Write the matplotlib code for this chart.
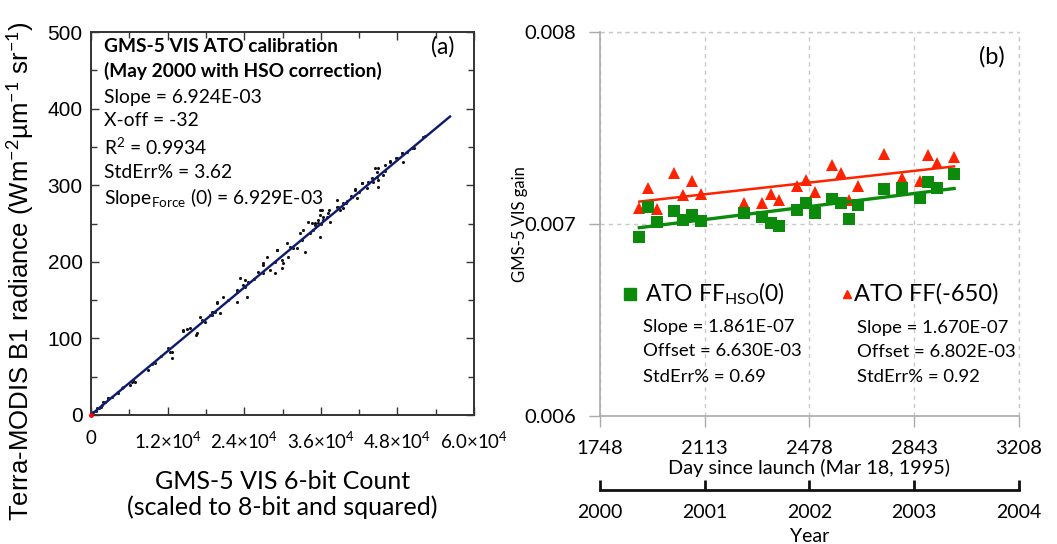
import matplotlib
matplotlib.use("Agg")
import matplotlib.pyplot as plt
import numpy as np
from matplotlib.ticker import MultipleLocator

plt.rcParams['mathtext.fontset'] = 'custom'
plt.rcParams['mathtext.rm'] = 'Lato'
plt.rcParams['mathtext.it'] = 'Lato:italic'
plt.rcParams['mathtext.bf'] = 'Lato:bold'

# ---------------- Panel (a) data ----------------
count_x = [800, 1200, 1500, 1800, 2193, 2715, 3237, 4282, 5065, 4804, 6109, 6370, 6632,
           8981, 10026, 12115, 12376, 12637, 14465, 14987, 15509, 16553, 16449, 17076,
           17337, 17859, 18904, 19687, 20209, 20731, 21514, 22820, 22820, 23342, 23864,
           24125, 24386, 24648, 26214, 26998, 27520, 28042, 28826, 29087, 29870, 29870,
           30131, 30653, 30914, 31175, 31698, 32742, 33264, 33525, 34047, 34308, 35092,
           35614, 35875, 35875, 35875, 36397, 36919, 37180, 37441, 38487, 38748, 39531,
           40836, 41359, 41620, 42403, 43186, 43969, 44230, 44491, 44752, 45013, 45013,
           45797, 46841, 47885, 48669, 48930, 50235, 52063,
           9500, 11000, 19000, 25500, 27000, 33000, 34800, 36000, 40000, 42000, 46000, 49500,
           19165, 19690, 22825, 24125, 26993, 28826, 29187, 32220, 35092, 36136,
           34570, 35614, 36397, 37337, 38487, 39009, 39531, 40053, 40732, 41410,
           42403, 43343, 44853, 45013, 46058, 46841, 47781, 48669, 50653, 52324,
           360, 893, 1927, 2710, 4277, 6893, 12637, 14360, 18643, 19426]
radiance_y = [5.5, 8.5, 10.5, 12.5, 17.3, 21.7, 23.9, 30.4, 36.9, 34.8, 39.1, 43.4, 45.6,
              58.7, 67.4, 87.0, 82.6, 73.9, 110.9, 111.8, 113.1, 106.5, 104.4, 128.3,
              123.9, 121.8, 134.8, 147.9, 132.7, 154.4, 150.1, 163.1, 147.9, 178.4, 169.7,
              167.5, 154.4, 174.0, 187.1, 195.8, 206.7, 189.2, 184.9, 215.4, 191.4, 202.3,
              198.0, 224.1, 206.7, 219.7, 217.5, 237.1, 241.5, 213.2, 252.3, 237.1, 248.0,
              250.2, 267.6, 261.0, 232.8, 254.5, 258.9, 263.2, 252.3, 280.6, 271.9, 269.8,
              285.0, 293.7, 282.8, 302.4, 295.9, 308.9, 304.6, 322.0, 311.1, 306.7, 298.0,
              313.3, 330.7, 335.0, 341.6, 330.7, 348.1, 363.3,
              66.0, 76.5, 131.0, 178.0, 186.0, 228.0, 241.0, 250.0, 277.0, 291.0, 318.0, 343.0,
              134.9, 146.6, 161.0, 176.2, 198.0, 200.0, 215.4, 217.6, 250.3, 267.6,
              250.3, 254.6, 258.9, 267.6, 272.0, 267.6, 276.4, 279.8, 285.9, 295.0,
              303.3, 304.6, 317.6, 322.0, 326.4, 332.0, 336.0, 341.6, 348.2, 364.2,
              4.3, 8.7, 17.4, 21.8, 28.3, 43.5, 82.6, 110.0, 130.5, 134.9]
fit_a_slope = 6.924e-3
fit_a_xoff = -32
fit_a_xrange = [0, 56250]

xticks_a = [0, 12000, 24000, 36000, 48000, 60000]
xticklabels_a = ['0', r'1.2$\times$10$^4$', r'2.4$\times$10$^4$', r'3.6$\times$10$^4$',
                 r'4.8$\times$10$^4$', r'6.0$\times$10$^4$']
yticks_a = [0, 100, 200, 300, 400, 500]

# ---------------- Panel (b) data ----------------
day = [1885, 1916, 1948, 2006, 2038, 2067, 2100, 2250, 2311, 2343, 2373, 2433,
       2466, 2497, 2555, 2587, 2616, 2648, 2739, 2800, 2863, 2892, 2921, 2982]
gain_hso = [0.006931, 0.007090, 0.007012, 0.007069, 0.007021, 0.007047, 0.007017,
            0.007055, 0.007035, 0.007007, 0.006990, 0.007073, 0.007108, 0.007055,
            0.007128, 0.007108, 0.007024, 0.007099, 0.007180, 0.007185, 0.007133,
            0.007220, 0.007190, 0.007260]
gain_ff650 = [0.007082, 0.007190, 0.007080, 0.007267, 0.007149, 0.007224, 0.007156,
              0.007108, 0.007111, 0.007155, 0.007125, 0.007199, 0.007229, 0.007165,
              0.007307, 0.007267, 0.007125, 0.007199, 0.007365, 0.007238, 0.007224,
              0.007359, 0.007316, 0.007349]
fit_hso = (1.861e-7, 6.630e-3)
fit_ff650 = (1.670e-7, 6.802e-3)
fit_b_xrange = [1885, 2982]

xticks_b = [1748, 2113, 2478, 2843, 3208]
yticks_b = [0.006, 0.007, 0.008]
year_ticks = [2000, 2001, 2002, 2003, 2004]

GREEN = '#0b8a0b'
RED = '#ff2200'
SANS = 'Lato'
ARIAL = 'Liberation Sans'

fig = plt.figure(figsize=(10.57, 5.44), dpi=100)

# ======================= Panel (a) =======================
axa = fig.add_axes([91/1057, 1-415/544, 383/1057, 383/544])
axa.scatter(count_x, radiance_y, s=5, color='#111111', zorder=3, linewidths=0)
fx = np.array(fit_a_xrange, dtype=float)
fy = fit_a_slope * (fx - fit_a_xoff)
axa.plot(fx, fy, color='#2030c0', lw=1.8, zorder=4)
axa.plot(fx, fy, color='#101830', lw=0.9, zorder=5)
axa.plot([0], [0], marker='o', ms=2.5, color='red', zorder=6, clip_on=False)
axa.set_xlim(0, 60000)
axa.set_ylim(0, 500)
axa.set_xticks(xticks_a)
axa.set_xticklabels(xticklabels_a, fontfamily=SANS, fontsize=13.5)
axa.set_yticks(yticks_a)
axa.set_yticklabels([str(v) for v in yticks_a], fontfamily=ARIAL, fontsize=15)
axa.xaxis.set_minor_locator(MultipleLocator(6000))
axa.yaxis.set_minor_locator(MultipleLocator(50))
axa.tick_params(which='both', direction='in', top=True, right=True, color='#333333')
axa.tick_params(which='major', length=6, width=1.0)
axa.tick_params(which='minor', length=4, width=1.0)
axa.tick_params(axis='x', pad=11)
axa.tick_params(axis='y', pad=6)
for s in axa.spines.values():
    s.set_color('#333333')
    s.set_linewidth(1.4)
axa.set_xlabel('GMS-5 VIS 6-bit Count\n(scaled to 8-bit and squared)',
               fontfamily=SANS, fontsize=18, labelpad=13, linespacing=1.15)
axa.set_ylabel(r'Terra-MODIS B1 radiance (Wm$^{-2}$µm$^{-1}$ sr$^{-1}$)',
               fontfamily=ARIAL, fontsize=18.5)
axa.yaxis.set_label_coords(-0.143, 0.377)

tx = 0.034
axa.text(tx, 0.961, 'GMS-5 VIS ATO calibration', transform=axa.transAxes,
         fontfamily=SANS, fontweight='bold', fontsize=13.8, va='center')
axa.text(tx, 0.898, '(May 2000 with HSO correction)', transform=axa.transAxes,
         fontfamily=SANS, fontweight='bold', fontsize=13.8, va='center')
axa.text(tx, 0.830, 'Slope = 6.924E-03', transform=axa.transAxes,
         fontfamily=SANS, fontsize=13.9, va='center')
axa.text(tx, 0.770, 'X-off = -32', transform=axa.transAxes,
         fontfamily=SANS, fontsize=13.9, va='center')
axa.text(tx, 0.700, r'R$^2$ = 0.9934', transform=axa.transAxes,
         fontfamily=SANS, fontsize=13.9, va='center')
axa.text(tx, 0.634, 'StdErr% = 3.62', transform=axa.transAxes,
         fontfamily=SANS, fontsize=13.9, va='center')
axa.text(tx, 0.567, r'Slope$_{\rm Force}$ (0) = 6.929E-03', transform=axa.transAxes,
         fontfamily=SANS, fontsize=13.9, va='center')
axa.text(0.919, 0.961, '(a)', transform=axa.transAxes, fontfamily=SANS,
         fontsize=16.5, va='center', ha='center')

# ======================= Panel (b) =======================
axb = fig.add_axes([600/1057, 1-416/544, 419/1057, 384/544])
axb.set_xlim(xticks_b[0], xticks_b[-1])
axb.set_ylim(yticks_b[0], yticks_b[-1])
axb.set_xticks(xticks_b)
axb.set_xticklabels([str(v) for v in xticks_b], fontfamily=SANS, fontsize=14.5)
axb.set_yticks(yticks_b)
axb.set_yticklabels(['%.3f' % v for v in yticks_b], fontfamily=SANS, fontsize=14.5)
axb.tick_params(axis='both', direction='out', length=8, color='#aaaaaa', width=1)
axb.tick_params(axis='x', pad=9)
axb.tick_params(axis='y', pad=9)
axb.grid(True, color='#c8c8c8', linestyle=(0, (3, 3)), linewidth=1.0)
axb.set_axisbelow(True)
axb.spines['top'].set_visible(False)
axb.spines['right'].set_visible(False)
axb.spines['left'].set_color('#aaaaaa')
axb.spines['bottom'].set_color('#aaaaaa')
axb.spines['left'].set_linewidth(1.2)
axb.spines['bottom'].set_linewidth(1.2)
axb.axhline(yticks_b[-1], color='#c8c8c8', linestyle=(0, (3, 3)), lw=1.0, clip_on=False)
axb.axvline(xticks_b[-1], color='#c8c8c8', linestyle=(0, (3, 3)), lw=1.0, clip_on=False)

bx = np.array(fit_b_xrange, dtype=float)
axb.plot(bx, fit_ff650[1] + fit_ff650[0] * bx, color=RED, lw=1.8, zorder=3)
axb.plot(day, gain_ff650, linestyle='none', marker='^', ms=8, color=RED,
         markeredgewidth=0, zorder=4)
axb.plot(bx, fit_hso[1] + fit_hso[0] * bx, color=GREEN, lw=2.4, zorder=5)
axb.plot(day, gain_hso, linestyle='none', marker='s', ms=8.2, color=GREEN,
         markeredgewidth=0, zorder=6)

axb.set_xlabel('Day since launch (Mar 18, 1995)', fontfamily=SANS, fontsize=14.3,
               labelpad=2)
axb.set_ylabel('GMS-5 VIS gain', fontfamily=SANS, fontsize=12)
axb.yaxis.set_label_coords(-0.172, 0.5)
axb.text(0.936, 0.935, '(b)', transform=axb.transAxes, fontfamily=SANS,
         fontsize=17, va='center', ha='center')

# legend-like annotations
axb.plot([0.0716], [0.318], transform=axb.transAxes, marker='s', ms=8, color=GREEN,
         linestyle='none', clip_on=False)
axb.text(0.108, 0.318, r'ATO FF$_{\rm HSO}$(0)', transform=axb.transAxes,
         fontfamily=SANS, fontsize=16.5, va='center')
axb.plot([0.589], [0.318], transform=axb.transAxes, marker='^', ms=5.5, color=RED,
         linestyle='none', clip_on=False)
axb.text(0.607, 0.318, 'ATO FF(-650)', transform=axb.transAxes,
         fontfamily=SANS, fontsize=17, va='center')
for txt, yy in [('Slope = 1.861E-07', 0.232), ('Offset = 6.630E-03', 0.169),
                ('StdErr% = 0.69', 0.102)]:
    axb.text(0.1026, yy, txt, transform=axb.transAxes, fontfamily=SANS,
             fontsize=13.3, va='center')
for txt, yy in [('Slope = 1.670E-07', 0.229), ('Offset = 6.802E-03', 0.167),
                ('StdErr% = 0.92', 0.102)]:
    axb.text(0.613, yy, txt, transform=axb.transAxes, fontfamily=SANS,
             fontsize=13.3, va='center')

# Year axis
d0, d1 = xticks_b[0], xticks_b[-1]
y0, y1 = year_ticks[0], year_ticks[-1]
sec = axb.secondary_xaxis(-0.193,
                          functions=(lambda d: y0 + (d - d0) * (y1 - y0) / (d1 - d0),
                                     lambda y: d0 + (y - y0) * (d1 - d0) / (y1 - y0)))
sec.set_xticks(year_ticks)
sec.set_xticklabels([str(v) for v in year_ticks], fontfamily=SANS, fontsize=14)
sec.tick_params(direction='in', length=7, width=2, color='#111111', pad=10)
sec.spines['bottom'].set_linewidth(2)
sec.spines['bottom'].set_color('#111111')
sec.set_xlabel('Year', fontfamily=SANS, fontsize=14, labelpad=5)

fig.savefig('out.png', dpi=100)
